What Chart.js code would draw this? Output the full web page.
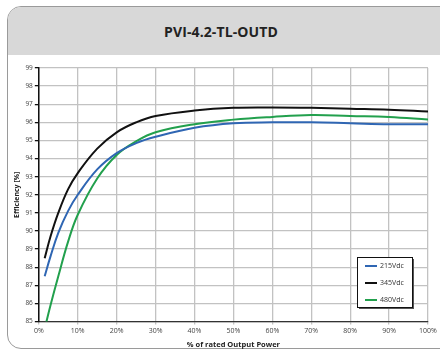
<!DOCTYPE html>
<html>
<head>
<meta charset="utf-8">
<script src="https://cdn.jsdelivr.net/npm/chart.js@4"></script>
<style>
  body { margin: 0; width: 440px; height: 352px; background: #fff; overflow: hidden; font-family: "Open Sans", sans-serif; }
  #card { position: absolute; left: 7px; top: 6px; width: 460px; height: 341px; border: 1.5px solid #9a9a9a; border-radius: 14px; overflow: hidden; background: #fff; }
  #head { height: 48px; background: #d8d8d8; text-align: center; width: 440px; margin-left: -7px; }
  #head h1 { margin: 0; font-size: 14px; line-height: 50px; font-weight: 700; color: #222; letter-spacing: 0.1px; }
  #wrap { position: absolute; left: 0; top: 0; width: 440px; height: 352px; }
</style>
</head>
<body>
<div id="card"><div id="head"><h1>PVI-4.2-TL-OUTD</h1></div></div>
<div id="wrap"><canvas id="effChart" width="440" height="352"></canvas></div>
<script>
// % of rated output power
const powerPct = [1.5, 3, 5, 7.5, 10, 15, 20, 25, 30, 40, 50, 60, 70, 80, 90, 100];
// efficiency [%] per input voltage
const eff215 = [87.5, 88.6, 89.9, 91.1, 92.0, 93.4, 94.3, 94.85, 95.2, 95.7, 95.95, 96.0, 96.0, 95.95, 95.9, 95.9];
const eff345 = [88.5, 89.7, 91.0, 92.3, 93.2, 94.55, 95.45, 96.0, 96.35, 96.65, 96.8, 96.82, 96.8, 96.75, 96.7, 96.6];
const eff480 = [84.6, 85.9, 87.5, 89.4, 90.9, 92.9, 94.2, 94.95, 95.45, 95.9, 96.15, 96.3, 96.4, 96.35, 96.3, 96.15];
const seriesLabels = ["215Vdc", "345Vdc", "480Vdc"];
const seriesColors = ["#2f66b3", "#111111", "#22a04d"];

const ctx = document.getElementById("effChart").getContext("2d");

function toPoints(values) {
  return values.map((v, i) => ({ x: powerPct[i], y: v }));
}

// legend box in the lower right corner of the plot
const boxLegend = {
  id: "boxLegend",
  afterDraw(chart) {
    const c = chart.ctx;
    const x = 357, y = 257, w = 55, h = 50;
    c.save();
    c.fillStyle = "#555";
    c.fillRect(x + 2, y + 2, w, h);
    c.fillStyle = "#fff";
    c.fillRect(x, y, w, h);
    c.strokeStyle = "#111";
    c.lineWidth = 1;
    c.strokeRect(x + 0.5, y + 0.5, w, h);
    c.font = "7px 'Open Sans', sans-serif";
    c.textBaseline = "middle";
    chart.data.datasets.forEach((ds, i) => {
      const ry = y + 9 + i * 17;
      c.strokeStyle = ds.borderColor;
      c.lineWidth = 2;
      c.beginPath();
      c.moveTo(x + 8, ry);
      c.lineTo(x + 20, ry);
      c.stroke();
      c.fillStyle = "#333";
      c.fillText(ds.label, x + 23, ry);
    });
    c.restore();
  }
};

new Chart(ctx, {
  type: "line",
  data: {
    datasets: [eff215, eff345, eff480].map((vals, i) => ({
      label: seriesLabels[i],
      data: toPoints(vals),
      borderColor: seriesColors[i],
      backgroundColor: seriesColors[i],
      borderWidth: 2,
      pointRadius: 0,
      tension: 0.4,
      fill: false,
    })),
  },
  options: {
    responsive: false,
    animation: false,
    layout: { padding: { top: 68, right: 12, bottom: 3, left: 13 } },
    plugins: { legend: { display: false }, tooltip: { enabled: false } },
    scales: {
      x: {
        type: "linear",
        min: 0,
        max: 100,
        ticks: {
          stepSize: 10,
          callback: (v) => v + "%",
          font: { size: 7, family: "'Open Sans', sans-serif" },
          color: "#444",
          maxRotation: 0,
          padding: 2,
        },
        grid: { color: "#c2c2c2", lineWidth: 1.3, tickLength: 3, tickColor: "#c2c2c2" },
        border: { color: "#333", width: 1.3 },
        title: {
          display: true,
          text: "% of rated Output Power",
          font: { size: 7.5, weight: "bold", family: "'Open Sans', sans-serif" },
          color: "#222",
          padding: { top: 3, bottom: 0 },
        },
      },
      y: {
        min: 85,
        max: 99,
        ticks: {
          stepSize: 1,
          font: { size: 6.5, family: "'Open Sans', sans-serif" },
          color: "#444",
          padding: 2,
        },
        grid: { color: "#c2c2c2", lineWidth: 1.3, tickLength: 4, tickColor: "#111" },
        border: { color: "#111", width: 1.5 },
        title: {
          display: true,
          text: "Efficiency [%]",
          font: { size: 7, weight: "bold", family: "'Open Sans', sans-serif" },
          color: "#222",
          padding: { top: 0, bottom: 2 },
        },
      },
    },
  },
  plugins: [boxLegend],
});
</script>
</body>
</html>
